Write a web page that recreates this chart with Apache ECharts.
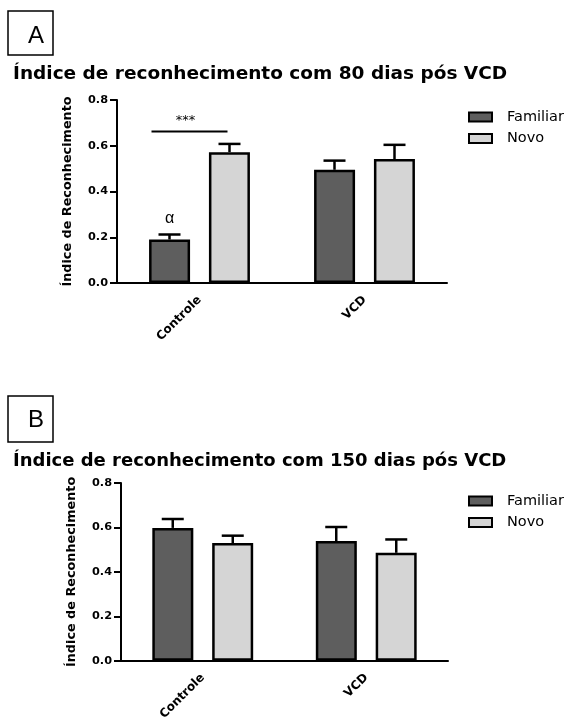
<!DOCTYPE html>
<html><head><meta charset="utf-8">
<script src="https://cdn.jsdelivr.net/npm/echarts@6/dist/echarts.min.js"></script>
<style>html,body{margin:0;padding:0;background:#fff}#c{width:569px;height:723px}</style>
</head><body><div id="c"></div>
<script>
var categories = ['Controle', 'VCD'];
var yTicks = [0, 0.2, 0.4, 0.6, 0.8];
var seriesNames = ['Familiar', 'Novo'];
// Panel A (80 dias)
var famA = [0.19, 0.495];
var famAErr = [0.022, 0.04];
var novoA = [0.572, 0.542];
var novoAErr = [0.036, 0.062];
// Panel B (150 dias)
var famB = [0.598, 0.539];
var famBErr = [0.04, 0.063];
var novoB = [0.53, 0.486];
var novoBErr = [0.033, 0.06];
var titleA = 'Índice de reconhecimento com 80 dias pós VCD';
var titleB = 'Índice de reconhecimento com 150 dias pós VCD';
var yName = 'Índice de Reconhecimento';

var FONT = '"DejaVu Sans", sans-serif';
var FONT2 = '"Liberation Sans", Arial, sans-serif';
var DARK = '#5e5e5e', LIGHT = '#d5d5d5';
var BW = 41, GAP = '46%', OFF = 30;

function errRender(offset) {
  return function (params, api) {
    var x = api.value(0), v = api.value(1), e = api.value(2);
    var p0 = api.coord([x, v]);
    var p1 = api.coord([x, v + e]);
    var cx = p0[0] + offset;
    return {
      type: 'group', children: [
        {type: 'line', shape: {x1: cx, y1: p0[1], x2: cx, y2: p1[1]}, style: {stroke: '#000', lineWidth: 2.5}},
        {type: 'line', shape: {x1: cx - 11, y1: p1[1], x2: cx + 11, y2: p1[1]}, style: {stroke: '#000', lineWidth: 2.5}}
      ]
    };
  };
}
function errData(vals, errs) { return vals.map(function (v, i) { return [i, v, errs[i]]; }); }

function xAxis(gi) {
  return {
    type: 'category', gridIndex: gi, data: categories,
    axisLine: {lineStyle: {color: '#000', width: 2}},
    axisTick: {alignWithLabel: true, length: 6, lineStyle: {color: '#000', width: 2}},
    axisLabel: {rotate: 45, color: '#000', fontFamily: FONT, fontWeight: 'bold', fontSize: 12, margin: 15}
  };
}
function yAxis(gi) {
  return {
    type: 'value', gridIndex: gi, min: 0, max: 0.8, interval: 0.2,
    name: yName, nameLocation: 'middle', nameRotate: 90, nameGap: 43,
    nameTextStyle: {color: '#000', fontFamily: FONT, fontWeight: 'bold', fontSize: 12.8},
    axisLine: {show: true, lineStyle: {color: '#000', width: 2}},
    axisTick: {show: true, length: 7, lineStyle: {color: '#000', width: 2}},
    splitLine: {show: false},
    axisLabel: {color: '#000', fontFamily: FONT, fontWeight: 'bold', fontSize: 11.3, margin: 9,
      formatter: function (v) { return v.toFixed(1); }}
  };
}
function bar(name, data, gi, color) {
  return {
    type: 'bar', name: name, xAxisIndex: gi, yAxisIndex: gi, data: data,
    barWidth: BW, barGap: GAP,
    itemStyle: {color: color, borderColor: '#000', borderWidth: 2.5},
    z: 3, silent: true
  };
}
function err(vals, errs, gi, off) {
  return {type: 'custom', xAxisIndex: gi, yAxisIndex: gi, data: errData(vals, errs), renderItem: errRender(off), z: 2, silent: true};
}
function legend(top) {
  return {
    data: seriesNames, orient: 'vertical', left: 463, top: top, itemWidth: 23, itemHeight: 9, itemGap: 6.5,
    icon: 'rect', selectedMode: false,
    itemStyle: {borderColor: '#000', borderWidth: 2},
    textStyle: {color: '#000', fontFamily: FONT, fontSize: 14.5, padding: [0, 0, 0, 10]}
  };
}

var chart = echarts.init(document.getElementById('c'), null, {renderer: 'canvas'});
chart.setOption({
  animation: false,
  backgroundColor: '#fff',
  title: [
    {text: titleA, left: 8, top: 60, textStyle: {color: '#000', fontFamily: FONT, fontWeight: 'bold', fontSize: 18.5}},
    {text: titleB, left: 8, top: 447, textStyle: {color: '#000', fontFamily: FONT, fontWeight: 'bold', fontSize: 18}}
  ],
  legend: [legend(104.5), legend(488.5)],
  grid: [
    {left: 117, top: 100, width: 330, height: 183},
    {left: 121, top: 483, width: 327, height: 182}
  ],
  xAxis: [xAxis(0), xAxis(1)],
  yAxis: [yAxis(0), yAxis(1)],
  graphic: [
    {type: 'rect', shape: {x: 8, y: 11, width: 45, height: 44}, style: {fill: null, stroke: '#000', lineWidth: 1.5}},
    {type: 'text', x: 36, y: 36, style: {text: 'A', font: '24px ' + FONT2, fill: '#000', align: 'center', verticalAlign: 'middle'}},
    {type: 'rect', shape: {x: 8, y: 396, width: 45, height: 46}, style: {fill: null, stroke: '#000', lineWidth: 1.5}},
    {type: 'text', x: 36, y: 420, style: {text: 'B', font: '24px ' + FONT2, fill: '#000', align: 'center', verticalAlign: 'middle'}}
  ],
  series: [
    bar('Familiar', famA, 0, DARK),
    bar('Novo', novoA, 0, LIGHT),
    err(famA, famAErr, 0, -OFF),
    err(novoA, novoAErr, 0, OFF),
    bar('Familiar', famB, 1, DARK),
    bar('Novo', novoB, 1, LIGHT),
    err(famB, famBErr, 1, -OFF),
    err(novoB, novoBErr, 1, OFF),
    {
      type: 'custom', xAxisIndex: 0, yAxisIndex: 0, silent: true, z: 4,
      data: [[0, 0.662, 0.28]],
      renderItem: function (params, api) {
        var p = api.coord([api.value(0), api.value(1)]);
        var pa = api.coord([api.value(0), api.value(2)]);
        return {type: 'group', children: [
          {type: 'line', shape: {x1: p[0] - 48, y1: p[1], x2: p[0] + 28, y2: p[1]}, style: {stroke: '#000', lineWidth: 2}},
          {type: 'text', x: p[0] - 14, y: p[1] - 11, style: {text: '***', font: '13px ' + FONT, fill: '#000', align: 'center', verticalAlign: 'middle'}},
          {type: 'text', x: pa[0] - OFF, y: pa[1], style: {text: 'α', font: '16px ' + FONT2, fill: '#000', align: 'center', verticalAlign: 'middle'}}
        ]};
      }
    }
  ]
});
</script></body></html>
